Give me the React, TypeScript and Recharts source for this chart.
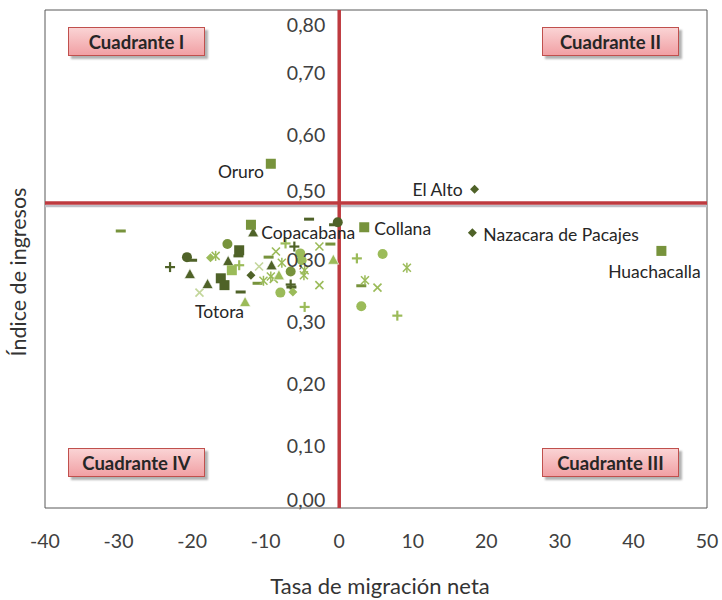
import { Label, ReferenceArea, ReferenceLine, Scatter, ScatterChart, XAxis, YAxis } from 'recharts';

type Pt = { x: number; y: number; name?: string };

// axis ticks
const xTicks = [-40, -30, -20, -10, 0, 10, 20, 30, 40, 50];
const yTicks = [0, 0.1, 0.2, 0.3, 0.4, 0.5, 0.6, 0.7, 0.8];
const yTickLabels = ['0,00', '0,10', '0,20', '0,30', '0,30', '0,50', '0,60', '0,70', '0,80'];
const quadrantNames = ['Cuadrante I', 'Cuadrante II', 'Cuadrante III', 'Cuadrante IV'];

// promedios (cruce de los cuadrantes)
const mediaMigracion = 0;
const mediaIngresos = 0.49;

// municipios, por tipo de marcador
const diamondDark: Pt[] = [
  { x: 18.4, y: 0.512, name: 'El Alto' },
  { x: 18.1, y: 0.442, name: 'Nazacara de Pacajes' },
  { x: -12.0, y: 0.374 },
];
const diamondLight: Pt[] = [
  { x: -17.5, y: 0.402 },
  { x: -6.3, y: 0.347 },
];
const squareMid: Pt[] = [
  { x: -9.3, y: 0.553, name: 'Oruro' },
  { x: 43.8, y: 0.413, name: 'Huachacalla' },
  { x: 3.4, y: 0.451, name: 'Collana' },
  { x: -12.0, y: 0.455 },
];
const squareDark: Pt[] = [
  { x: -13.6, y: 0.414 },
  { x: -16.1, y: 0.369 },
  { x: -15.6, y: 0.358 },
];
const squareLight: Pt[] = [{ x: -14.6, y: 0.382 }];
const triangleDark: Pt[] = [
  { x: -11.7, y: 0.442, name: 'Copacabana' },
  { x: -20.3, y: 0.375 },
  { x: -17.9, y: 0.359 },
  { x: -15.1, y: 0.396 },
  { x: -9.2, y: 0.389 },
];
const triangleLight: Pt[] = [
  { x: -8.2, y: 0.373 },
  { x: -12.8, y: 0.33, name: 'Totora' },
  { x: -0.8, y: 0.398 },
];
const circleDark: Pt[] = [
  { x: -20.7, y: 0.403 },
  { x: -0.2, y: 0.459 },
];
const circleMid: Pt[] = [
  { x: -15.2, y: 0.424 },
  { x: -6.6, y: 0.38 },
];
const circleLight: Pt[] = [
  { x: -5.3, y: 0.409 },
  { x: -5.1, y: 0.398 },
  { x: -8.0, y: 0.346 },
  { x: 5.9, y: 0.408 },
  { x: 3.0, y: 0.324 },
];
const plusDark: Pt[] = [
  { x: -23.0, y: 0.387 },
  { x: -6.1, y: 0.42 },
  { x: -6.6, y: 0.359 },
];
const plusLight: Pt[] = [
  { x: -7.3, y: 0.425 },
  { x: -13.6, y: 0.39 },
  { x: -4.7, y: 0.323 },
  { x: 2.4, y: 0.401 },
  { x: 7.9, y: 0.309 },
];
const crossPale: Pt[] = [
  { x: -19.0, y: 0.346 },
  { x: -10.9, y: 0.388 },
];
const crossLight: Pt[] = [
  { x: -8.6, y: 0.412 },
  { x: -8.9, y: 0.368 },
  { x: -2.7, y: 0.42 },
  { x: -2.7, y: 0.358 },
  { x: 5.2, y: 0.354 },
];
const starLight: Pt[] = [
  { x: -16.8, y: 0.405 },
  { x: -7.8, y: 0.394 },
  { x: -4.7, y: 0.382 },
  { x: -4.8, y: 0.374 },
  { x: -10.3, y: 0.365 },
  { x: -9.3, y: 0.372 },
  { x: 3.5, y: 0.366 },
  { x: 9.2, y: 0.386 },
];
const dashDark: Pt[] = [
  { x: -20.0, y: 0.398 },
  { x: -4.1, y: 0.464 },
  { x: -0.7, y: 0.455 },
  { x: -13.7, y: 0.405 },
  { x: -13.4, y: 0.347 },
  { x: -6.5, y: 0.355 },
];
const dashMid: Pt[] = [
  { x: -29.7, y: 0.445 },
  { x: -1.2, y: 0.424 },
  { x: -9.6, y: 0.403 },
  { x: -11.1, y: 0.361 },
  { x: 3.0, y: 0.357 },
];

const DARK = '#4F6228';
const MID = '#77933C';
const LIGHT = '#9BBB59';
const PALE = '#C3D69B';
const RED = '#BE3A3F';
const FONT = 'Lato, "Open Sans", sans-serif';

const W = 722;
const H = 600;
const PLOT_LEFT = 45;
const PLOT_RIGHT = 707;
const PLOT_TOP = 10;
const PLOT_BOTTOM = 508;
const X_MIN = -40;
const X_MAX = 50;
const Y_MAX = 0.8;
const ZERO_X = PLOT_LEFT + ((mediaMigracion - X_MIN) / (X_MAX - X_MIN)) * (PLOT_RIGHT - PLOT_LEFT);
const MEAN_Y = PLOT_BOTTOM - (mediaIngresos / Y_MAX) * (PLOT_BOTTOM - PLOT_TOP);

// where each data label sits relative to its marker
const labelPos: Record<string, { dx: number; dy: number; anchor: 'start' | 'middle' | 'end' }> = {
  'El Alto': { dx: -12, dy: 0, anchor: 'end' },
  'Nazacara de Pacajes': { dx: 11, dy: 2, anchor: 'start' },
  Huachacalla: { dx: -7, dy: 21, anchor: 'middle' },
  Collana: { dx: 10, dy: 1, anchor: 'start' },
  Copacabana: { dx: 8, dy: 0, anchor: 'start' },
  Oruro: { dx: -7, dy: 8, anchor: 'end' },
  Totora: { dx: -1, dy: 9, anchor: 'end' },
};

const quadrantBoxes = [
  { left: 68, top: 27 },
  { left: 542, top: 27 },
  { left: 542, top: 448 },
  { left: 68, top: 448 },
];

type Kind = 'diamond' | 'square' | 'triangle' | 'circle' | 'plus' | 'cross' | 'star' | 'dash';

function Marker({ cx, cy, kind, color, name }: { cx: number; cy: number; kind: Kind; color: string; name?: string }) {
  let mark: JSX.Element;
  switch (kind) {
    case 'diamond':
      mark = <polygon points={`${cx},${cy - 4.5} ${cx + 4.5},${cy} ${cx},${cy + 4.5} ${cx - 4.5},${cy}`} fill={color} />;
      break;
    case 'square':
      mark = <rect x={cx - 5} y={cy - 5} width={10} height={10} fill={color} />;
      break;
    case 'triangle':
      mark = (
        <polygon
          points={`${cx},${cy - 6} ${cx + 5.5},${cy + 4} ${cx - 5.5},${cy + 4}`}
          fill={color}
          stroke="#fff"
          strokeWidth={0.6}
        />
      );
      break;
    case 'circle':
      mark = <circle cx={cx} cy={cy} r={5} fill={color} />;
      break;
    case 'plus':
      mark = (
        <g stroke={color} strokeWidth={2.2}>
          <line x1={cx - 5} y1={cy} x2={cx + 5} y2={cy} />
          <line x1={cx} y1={cy - 5} x2={cx} y2={cy + 5} />
        </g>
      );
      break;
    case 'cross':
      mark = (
        <g stroke={color} strokeWidth={1.6}>
          <line x1={cx - 4} y1={cy - 4} x2={cx + 4} y2={cy + 4} />
          <line x1={cx - 4} y1={cy + 4} x2={cx + 4} y2={cy - 4} />
        </g>
      );
      break;
    case 'star':
      mark = (
        <g stroke={color} strokeWidth={1.5}>
          <line x1={cx - 4} y1={cy - 4} x2={cx + 4} y2={cy + 4} />
          <line x1={cx - 4} y1={cy + 4} x2={cx + 4} y2={cy - 4} />
          <line x1={cx} y1={cy - 5} x2={cx} y2={cy + 5} />
        </g>
      );
      break;
    default:
      mark = <rect x={cx - 5} y={cy - 1.5} width={10} height={3} fill={color} />;
  }
  const pos = name ? labelPos[name] : undefined;
  return (
    <g>
      {mark}
      {name && pos && (
        <text
          x={cx + pos.dx}
          y={cy + pos.dy}
          textAnchor={pos.anchor}
          dominantBaseline="central"
          fontSize={17.5}
          fontFamily={FONT}
          fill="#262626"
        >
          {name}
        </text>
      )}
    </g>
  );
}

const series: { data: Pt[]; kind: Kind; color: string }[] = [
  { data: dashMid, kind: 'dash', color: MID },
  { data: dashDark, kind: 'dash', color: DARK },
  { data: crossPale, kind: 'cross', color: PALE },
  { data: crossLight, kind: 'cross', color: LIGHT },
  { data: starLight, kind: 'star', color: LIGHT },
  { data: plusLight, kind: 'plus', color: LIGHT },
  { data: plusDark, kind: 'plus', color: DARK },
  { data: circleLight, kind: 'circle', color: LIGHT },
  { data: circleMid, kind: 'circle', color: MID },
  { data: circleDark, kind: 'circle', color: DARK },
  { data: triangleLight, kind: 'triangle', color: LIGHT },
  { data: triangleDark, kind: 'triangle', color: DARK },
  { data: squareLight, kind: 'square', color: LIGHT },
  { data: squareDark, kind: 'square', color: DARK },
  { data: squareMid, kind: 'square', color: MID },
  { data: diamondLight, kind: 'diamond', color: LIGHT },
  { data: diamondDark, kind: 'diamond', color: DARK },
];

function XTick({ x, payload }: any) {
  return (
    <text x={x} y={PLOT_BOTTOM + 32} textAnchor="middle" dominantBaseline="central" fontSize={19.5} fontFamily={FONT} fill="#404040">
      {payload.value}
    </text>
  );
}

function YTick({ y, index }: any) {
  // keep labels inside the frame and clear of the mean line
  let ty = Math.min(Math.max(y, PLOT_TOP + 14), PLOT_BOTTOM - 9);
  if (Math.abs(ty - MEAN_Y) < 12) ty = MEAN_Y - 12;
  return (
    <text x={ZERO_X - 14} y={ty} textAnchor="end" dominantBaseline="central" fontSize={19.5} fontFamily={FONT} fill="#404040">
      {yTickLabels[index]}
    </text>
  );
}

function MeanLine({ x1, y1, x2, y2 }: any) {
  return (
    <g>
      <line x1={x1} y1={y1 + 3} x2={x2} y2={y2 + 3} stroke="#BFBFC6" strokeWidth={2.5} />
      <line x1={x1} y1={y1} x2={x2} y2={y2} stroke={RED} strokeWidth={3.5} />
    </g>
  );
}

export default function App() {
  return (
    <div style={{ position: 'absolute', left: 0, top: 0, width: W, height: H, background: '#fff', fontFamily: FONT }}>
      <ScatterChart width={W} height={H} margin={{ top: PLOT_TOP, right: W - PLOT_RIGHT, bottom: 0, left: PLOT_LEFT - 1 }}>
        <XAxis
          type="number"
          dataKey="x"
          domain={[X_MIN, X_MAX]}
          ticks={xTicks}
          interval={0}
          height={H - PLOT_BOTTOM}
          axisLine={false}
          tickLine={false}
          tick={<XTick />}
        >
          <Label
            content={() => (
              <text x={380} y={585} textAnchor="middle" dominantBaseline="central" fontSize={22} fontFamily={FONT} fill="#333">
                Tasa de migración neta
              </text>
            )}
          />
        </XAxis>
        <YAxis
          type="number"
          dataKey="y"
          domain={[0, Y_MAX]}
          ticks={yTicks}
          interval={0}
          width={1}
          axisLine={false}
          tickLine={false}
          tick={<YTick />}
        >
          <Label
            content={() => (
              <text
                x={18}
                y={272}
                transform="rotate(-90 18 272)"
                textAnchor="middle"
                dominantBaseline="central"
                fontSize={21.5}
                fontFamily={FONT}
                fill="#333"
              >
                Índice de ingresos
              </text>
            )}
          />
        </YAxis>
        <ReferenceArea x1={X_MIN} x2={X_MAX} y1={0} y2={Y_MAX} fill="none" fillOpacity={0} stroke="#595959" strokeWidth={1} />
        <ReferenceLine y={mediaIngresos} shape={<MeanLine />} />
        <ReferenceLine x={mediaMigracion} stroke={RED} strokeWidth={3.5} />
        {series.map((s, i) => (
          <Scatter
            key={i}
            data={s.data}
            isAnimationActive={false}
            shape={(p: any) => <Marker cx={p.cx} cy={p.cy} kind={s.kind} color={s.color} name={p.payload?.name} />}
          />
        ))}
      </ScatterChart>
      {quadrantNames.map((q, i) => (
        <div
          key={q}
          style={{
            position: 'absolute',
            left: quadrantBoxes[i].left,
            top: quadrantBoxes[i].top,
            width: 137,
            height: 29,
            boxSizing: 'border-box',
            border: '1px solid #C0504D',
            background: 'linear-gradient(#FAD3D4, #F1A0A4)',
            boxShadow: '3px 3px 2px rgba(0,0,0,0.3)',
            display: 'flex',
            alignItems: 'center',
            justifyContent: 'center',
            fontWeight: 700,
            fontSize: 18.5,
            color: '#262626',
          }}
        >
          {q}
        </div>
      ))}
    </div>
  );
}
